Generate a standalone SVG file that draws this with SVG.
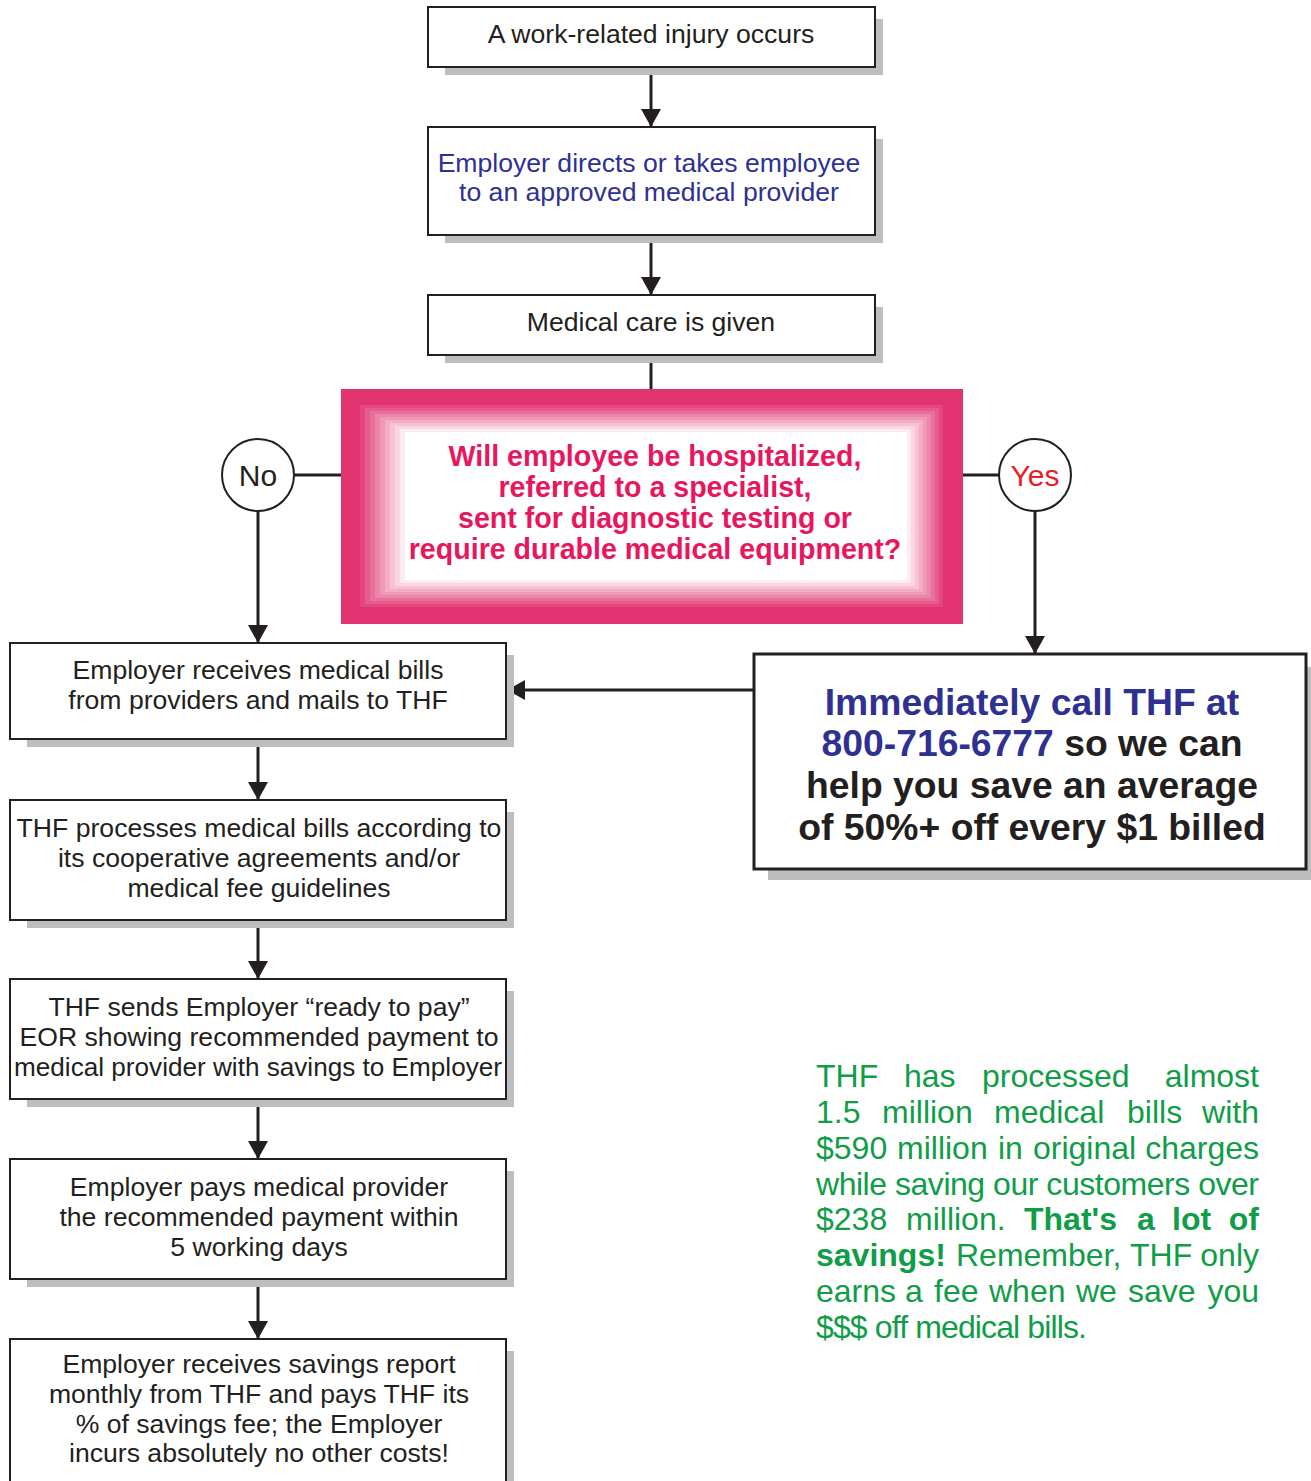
<svg xmlns="http://www.w3.org/2000/svg" width="1311" height="1481" viewBox="0 0 1311 1481">
<defs>
<style>
.box{fill:#fff;stroke:#231f20;stroke-width:2}
.big{fill:#fff;stroke:#231f20;stroke-width:3}
.sh{fill:#bcbec0}
.t{font-family:"Liberation Sans",Arial,sans-serif;font-size:26.6px;fill:#231f20;text-anchor:middle}
.blue{fill:#2e3192}
.pk{font-family:"Liberation Sans",Arial,sans-serif;font-size:28.6px;font-weight:bold;fill:#e8175d;text-anchor:middle}
.rb{font-family:"Liberation Sans",Arial,sans-serif;font-size:37.3px;font-weight:bold;fill:#231f20;text-anchor:middle}
.g{font-family:"Liberation Sans",Arial,sans-serif;font-size:32px;fill:#0f9d48}
.gb{font-weight:bold}
.e{text-anchor:end}
.ln{stroke:#231f20;stroke-width:3;fill:none}
.arr{stroke:#231f20;stroke-width:3;fill:none;marker-end:url(#ah)}
.circ{fill:#fff;stroke:#231f20;stroke-width:2}
</style>
<marker id="ah" markerUnits="userSpaceOnUse" markerWidth="18" markerHeight="20" refX="18" refY="10" orient="auto">
<path d="M0,0 L18,10 L0,20 z" fill="#231f20"/>
</marker>
</defs>
<rect width="1311" height="1481" fill="#fff"/>

<g id="connectors">
<line class="arr" x1="651" y1="67" x2="651" y2="127"/>
<line class="arr" x1="651" y1="235" x2="651" y2="295"/>
<line class="ln" x1="651" y1="355" x2="651" y2="390"/>
<line class="ln" x1="294" y1="475" x2="342" y2="475"/>
<line class="ln" x1="962" y1="475" x2="999" y2="475"/>
<line class="arr" x1="258" y1="511" x2="258" y2="643"/>
<line class="arr" x1="1035" y1="511" x2="1035" y2="654"/>
<line class="arr" x1="754" y1="690" x2="507" y2="690"/>
<line class="arr" x1="258" y1="739" x2="258" y2="800"/>
<line class="arr" x1="258" y1="920" x2="258" y2="979"/>
<line class="arr" x1="258" y1="1099" x2="258" y2="1159"/>
<line class="arr" x1="258" y1="1279" x2="258" y2="1339"/>
</g>

<g id="n1">
<rect class="sh" x="445" y="19" width="438" height="56"/>
<rect class="box" x="428" y="7" width="447" height="60"/>
<text class="t" x="651" y="43">A work-related injury occurs</text>
</g>

<g id="n2">
<rect class="sh" x="445" y="139" width="438" height="104"/>
<rect class="box" x="428" y="127" width="447" height="108"/>
<text class="t blue" x="649" y="172">Employer directs or takes employee</text>
<text class="t blue" x="649" y="201">to an approved medical provider</text>
</g>

<g id="n3">
<rect class="sh" x="445" y="307" width="438" height="56"/>
<rect class="box" x="428" y="295" width="447" height="60"/>
<text class="t" x="651" y="331">Medical care is given</text>
</g>

<g id="decision">
<rect x="341" y="389" width="622" height="235" fill="#e0336f"/>
<rect x="360" y="405" width="583" height="202" fill="#e3477d"/>
<rect x="365" y="408" width="574" height="196" fill="#e65c8c"/>
<rect x="370" y="411" width="565" height="190" fill="#e9709a"/>
<rect x="375" y="414" width="556" height="184" fill="#ec85a9"/>
<rect x="380" y="417" width="547" height="178" fill="#f099b7"/>
<rect x="385" y="420" width="538" height="172" fill="#f3adc5"/>
<rect x="390" y="423" width="529" height="166" fill="#f6c2d4"/>
<rect x="395" y="426" width="520" height="160" fill="#f9d6e2"/>
<rect x="400" y="429" width="511" height="154" fill="#fcebf1"/>
<rect x="405" y="432" width="502" height="148" fill="#fff"/>
<text class="pk" x="655" y="466">Will employee be hospitalized,</text>
<text class="pk" x="655" y="497">referred to a specialist,</text>
<text class="pk" x="655" y="528">sent for diagnostic testing or</text>
<text class="pk" x="655" y="559">require durable medical equipment?</text>
</g>

<g id="no">
<circle class="circ" cx="258" cy="475" r="36"/>
<text class="t" x="258" y="486" style="font-size:30px">No</text>
</g>

<g id="yes">
<circle class="circ" cx="1035" cy="475" r="36"/>
<text class="t" x="1035" y="486" style="font-size:30px;fill:#ed1c24">Yes</text>
</g>

<g id="l1">
<rect class="sh" x="27" y="655" width="487" height="92"/>
<rect class="box" x="10" y="643" width="496" height="96"/>
<text class="t" x="258" y="679">Employer receives medical bills</text>
<text class="t" x="258" y="709">from providers and mails to THF</text>
</g>

<g id="call">
<rect class="sh" x="768" y="667" width="543" height="213"/>
<rect class="big" x="754" y="654" width="552" height="215"/>
<text class="rb" x="1032" y="715"><tspan class="blue">Immediately call THF at</tspan></text>
<text class="rb" x="1032" y="756"><tspan class="blue">800-716-6777</tspan> so we can</text>
<text class="rb" x="1032" y="798">help you save an average</text>
<text class="rb" x="1032" y="840">of 50%+ off every $1 billed</text>
</g>

<g id="l2">
<rect class="sh" x="27" y="812" width="487" height="116"/>
<rect class="box" x="10" y="800" width="496" height="120"/>
<text class="t" x="259" y="837">THF processes medical bills according to</text>
<text class="t" x="259" y="867">its cooperative agreements and/or</text>
<text class="t" x="259" y="897">medical fee guidelines</text>
</g>

<g id="l3">
<rect class="sh" x="27" y="991" width="487" height="116"/>
<rect class="box" x="10" y="979" width="496" height="120"/>
<text class="t" x="259" y="1016">THF sends Employer “ready to pay”</text>
<text class="t" x="259" y="1046">EOR showing recommended payment to</text>
<text class="t" x="258" y="1076" textLength="488" lengthAdjust="spacingAndGlyphs">medical provider with savings to Employer</text>
</g>

<g id="l4">
<rect class="sh" x="27" y="1171" width="487" height="116"/>
<rect class="box" x="10" y="1159" width="496" height="120"/>
<text class="t" x="259" y="1196">Employer pays medical provider</text>
<text class="t" x="259" y="1226">the recommended payment within</text>
<text class="t" x="259" y="1256">5 working days</text>
</g>

<g id="l5">
<rect class="sh" x="27" y="1351" width="487" height="140"/>
<rect class="box" x="10" y="1339" width="496" height="150"/>
<text class="t" x="259" y="1373">Employer receives savings report</text>
<text class="t" x="259" y="1403">monthly from THF and pays THF its</text>
<text class="t" x="259" y="1433">% of savings fee; the Employer</text>
<text class="t" x="259" y="1462">incurs absolutely no other costs!</text>
</g>

<g id="note">
<text class="g" y="1087"><tspan x="816">THF</tspan><tspan x="904">has</tspan><tspan x="982">processed</tspan></text>
<text class="g e" x="1259" y="1087">almost</text>
<text class="g" y="1123"><tspan x="816">1.5</tspan><tspan x="882">million</tspan><tspan x="994">medical</tspan><tspan x="1127">bills</tspan></text>
<text class="g e" x="1259" y="1123">with</text>
<text class="g" y="1159"><tspan x="816">$590</tspan><tspan x="897">million</tspan><tspan x="998">in</tspan><tspan x="1033">original</tspan></text>
<text class="g e" x="1259" y="1159">charges</text>
<text class="g" x="816" y="1195" textLength="443" lengthAdjust="spacing">while saving our customers over</text>
<text class="g" y="1230"><tspan x="816">$238</tspan><tspan x="906">million.</tspan><tspan class="gb" x="1024">That's</tspan><tspan class="gb" x="1137">a</tspan><tspan class="gb" x="1172">lot</tspan></text>
<text class="g e gb" x="1259" y="1230">of</text>
<text class="g" y="1266"><tspan class="gb" x="816">savings!</tspan><tspan x="956">Remember,</tspan><tspan x="1130">THF</tspan></text>
<text class="g e" x="1259" y="1266">only</text>
<text class="g" y="1302"><tspan x="816">earns</tspan><tspan x="905">a</tspan><tspan x="934">fee</tspan><tspan x="989">when</tspan><tspan x="1076">we</tspan><tspan x="1128">save</tspan></text>
<text class="g e" x="1259" y="1302">you</text>
<text class="g" x="816" y="1338" textLength="271" lengthAdjust="spacing">$$$ off medical bills.</text>
</g>
</svg>
